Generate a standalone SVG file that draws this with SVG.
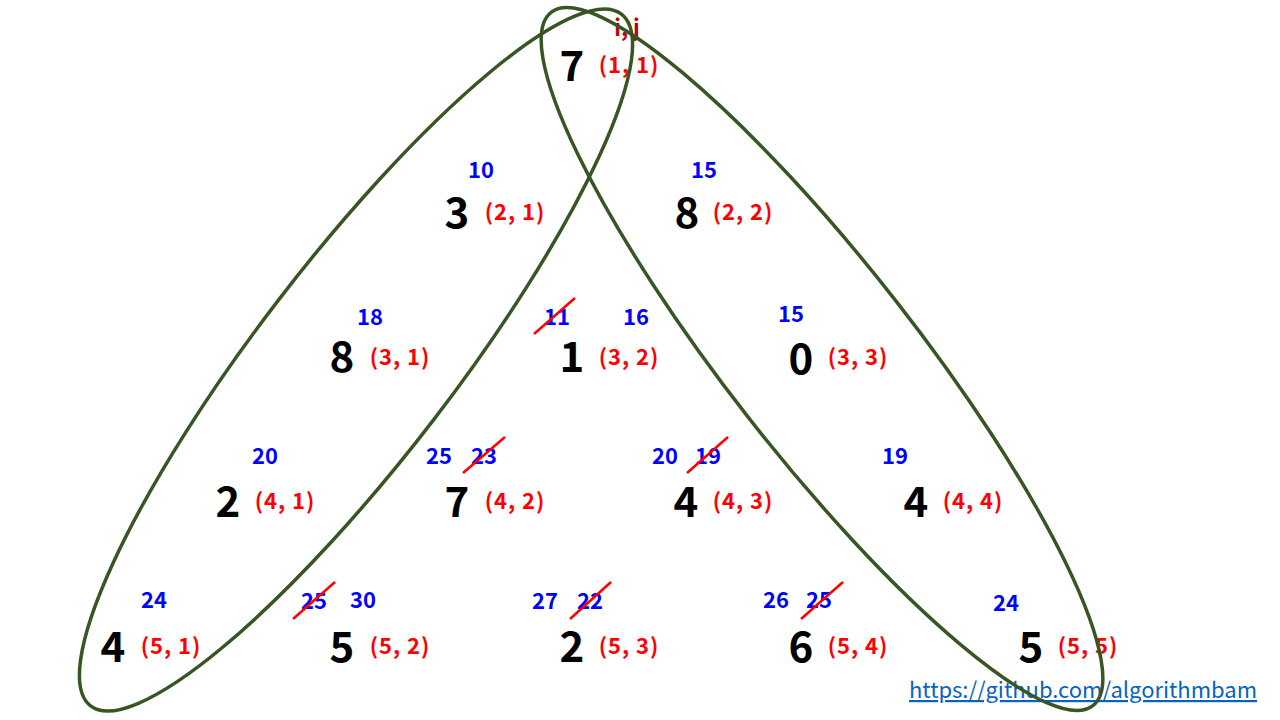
<svg xmlns="http://www.w3.org/2000/svg" width="1280" height="720" viewBox="0 0 1280 720">
<style>
text{font-family:'Noto Sans CJK KR','Noto Sans',sans-serif;text-anchor:middle}
.v{font-size:42px;font-weight:bold;fill:#000}
.ij{font-size:22px;font-weight:bold;fill:#FF0000;letter-spacing:1px}
.c{font-size:22px;font-weight:bold;fill:#0000FF}
.hd{font-size:22px;font-weight:bold;fill:#C00000}
.s{stroke:#FF0000;stroke-width:2.5;fill:none}
.el{fill:none;stroke:#375623;stroke-width:3.5}
.lk{font-size:22px;fill:#0563C1;text-anchor:start;text-decoration:underline}
</style>
<rect width="1280" height="720" fill="#fff"/>
<text class="hd" x="627" y="36">i, j</text>
<g id="n11"><text class="v" x="572" y="81">7</text><text class="ij" x="629" y="73">(1, 1)</text></g>
<g id="n21"><text class="c" x="481" y="178">10</text><text class="v" x="457" y="228">3</text><text class="ij" x="515" y="220">(2, 1)</text></g>
<g id="n22"><text class="c" x="704" y="178">15</text><text class="v" x="687" y="228">8</text><text class="ij" x="743" y="220">(2, 2)</text></g>
<g id="n31"><text class="c" x="370" y="325">18</text><text class="v" x="342" y="372">8</text><text class="ij" x="400" y="365">(3, 1)</text></g>
<g id="n32"><text class="c" x="557" y="325">11</text><line class="s" x1="534" y1="334" x2="575" y2="298"/><text class="c" x="636" y="325">16</text><text class="v" x="572" y="372">1</text><text class="ij" x="629" y="365">(3, 2)</text></g>
<g id="n33"><text class="c" x="791" y="322">15</text><text class="v" x="801" y="374">0</text><text class="ij" x="858" y="365">(3, 3)</text></g>
<g id="n41"><text class="c" x="265" y="464">20</text><text class="v" x="228" y="517">2</text><text class="ij" x="285" y="509">(4, 1)</text></g>
<g id="n42"><text class="c" x="439" y="464">25</text><text class="c" x="484" y="464">23</text><line class="s" x1="463" y1="473" x2="505" y2="437"/><text class="v" x="457" y="517">7</text><text class="ij" x="515" y="509">(4, 2)</text></g>
<g id="n43"><text class="c" x="665" y="464">20</text><text class="c" x="708" y="464">19</text><line class="s" x1="687" y1="473" x2="728" y2="437"/><text class="v" x="686" y="517">4</text><text class="ij" x="743" y="509">(4, 3)</text></g>
<g id="n44"><text class="c" x="895" y="464">19</text><text class="v" x="916" y="517">4</text><text class="ij" x="973" y="509">(4, 4)</text></g>
<g id="n51"><text class="c" x="154" y="608">24</text><text class="v" x="113" y="662">4</text><text class="ij" x="171" y="654">(5, 1)</text></g>
<g id="n52"><text class="c" x="314" y="609">25</text><line class="s" x1="293" y1="619" x2="335" y2="582"/><text class="c" x="363" y="608">30</text><text class="v" x="342" y="662">5</text><text class="ij" x="400" y="654">(5, 2)</text></g>
<g id="n53"><text class="c" x="545" y="609">27</text><text class="c" x="590" y="609">22</text><line class="s" x1="570" y1="619" x2="611" y2="582"/><text class="v" x="572" y="662">2</text><text class="ij" x="629" y="654">(5, 3)</text></g>
<g id="n54"><text class="c" x="776" y="608">26</text><text class="c" x="819" y="608">25</text><line class="s" x1="801" y1="619" x2="843" y2="582"/><text class="v" x="801" y="662">6</text><text class="ij" x="858" y="654">(5, 4)</text></g>
<g id="n55"><text class="c" x="1006" y="611">24</text><text class="v" x="1031" y="662">5</text><text class="ij" x="1088" y="654">(5, 5)</text></g>
<text class="lk" x="909" y="698" textLength="348" lengthAdjust="spacingAndGlyphs">https://github.com/algorithmbam</text>
<g id="groups">
<ellipse class="el" cx="356" cy="360" rx="436" ry="98" transform="rotate(-52.5 356 360)"/>
<ellipse class="el" cx="822" cy="359" rx="440" ry="94" transform="rotate(52 822 359)"/>
</g>
</svg>
